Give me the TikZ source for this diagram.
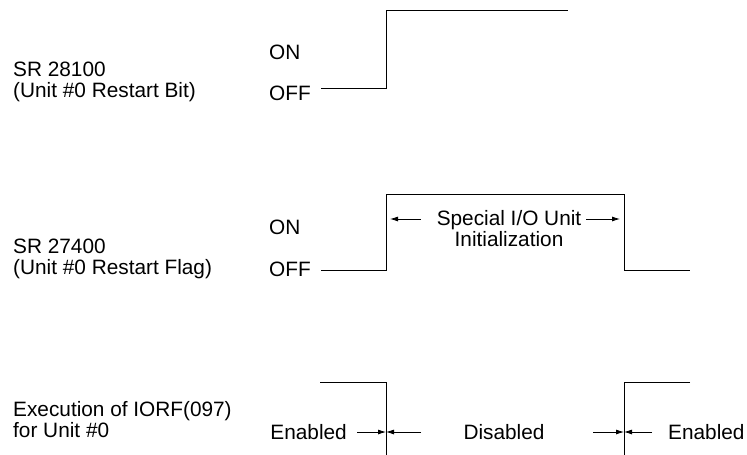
\documentclass[tikz,border=0pt]{standalone}
\usepackage{fontspec}
\setmainfont{Liberation Sans}
\usetikzlibrary{arrows.meta,positioning}

\begin{document}
\begin{tikzpicture}[
  x=1pt, y=-1pt,
  lbl/.style={anchor=west, align=left, inner sep=0pt, font=\fontsize{20.8}{21}\selectfont},
  txt/.style={inner sep=0pt, align=center, font=\fontsize{20.8}{21}\selectfont},
  wave/.style={line width=0.8pt},
  arr/.style={-{Latex[length=8pt,width=5pt]}, line width=0.8pt}
]
\useasboundingbox (0,0) rectangle (747,455);

% signal names
\node[lbl] (bit) at (13,82) {SR 28100\\(Unit \#0 Restart Bit)};
\node[lbl] (flag) at (13,259) {SR 27400\\(Unit \#0 Restart Flag)};
\node[lbl] (iorf) at (13,420) {Execution of IORF(097)\\for Unit \#0};

% levels
\node[lbl] (on1) at (269,52) {ON};
\node[lbl] (off1) at (269,93) {OFF};
\node[lbl] (on2) at (269,227) {ON};
\node[lbl] (off2) at (269,269) {OFF};

% waveforms
\coordinate (r1) at (386,88);
\coordinate (r2) at (386,270);
\coordinate (f2) at (624,270);
\draw[wave] (321,88) -- (r1) -- (386,10) -- (568,10);
\draw[wave] (321,270) -- (r2) -- (386,194) -- (624,194) -- (f2) -- (690,270);
\draw[wave] (320,382) -- (386,382) -- (386,455);
\draw[wave] (690,382) -- (624,382) -- (624,455);

% initialization span
\node[txt] (init) at (509,229) {Special I/O Unit\\Initialization};
\coordinate (il) at (390,219);
\coordinate (ir) at (620,219);
\draw[arr] (init.north west |- 0,219) ++(-16,0) coordinate (ia) -- (il);
\draw[arr] (init.north east |- 0,219) ++(5,0) coordinate (ib) -- (ir);

% enabled / disabled
\node[txt, anchor=east] (en1) at (347,432) {Enabled};
\node[txt] (dis) at (504,432) {Disabled};
\node[txt, anchor=west] (en2) at (668,432) {Enabled};
\coordinate (e1) at (386,432);
\coordinate (e2) at (624,432);
\draw[arr] (357,432) -- (e1);
\draw[arr] (421,432) -- (e1);
\draw[arr] (593,432) -- (e2);
\draw[arr] (652,432) -- (e2);
\end{tikzpicture}
\end{document}
